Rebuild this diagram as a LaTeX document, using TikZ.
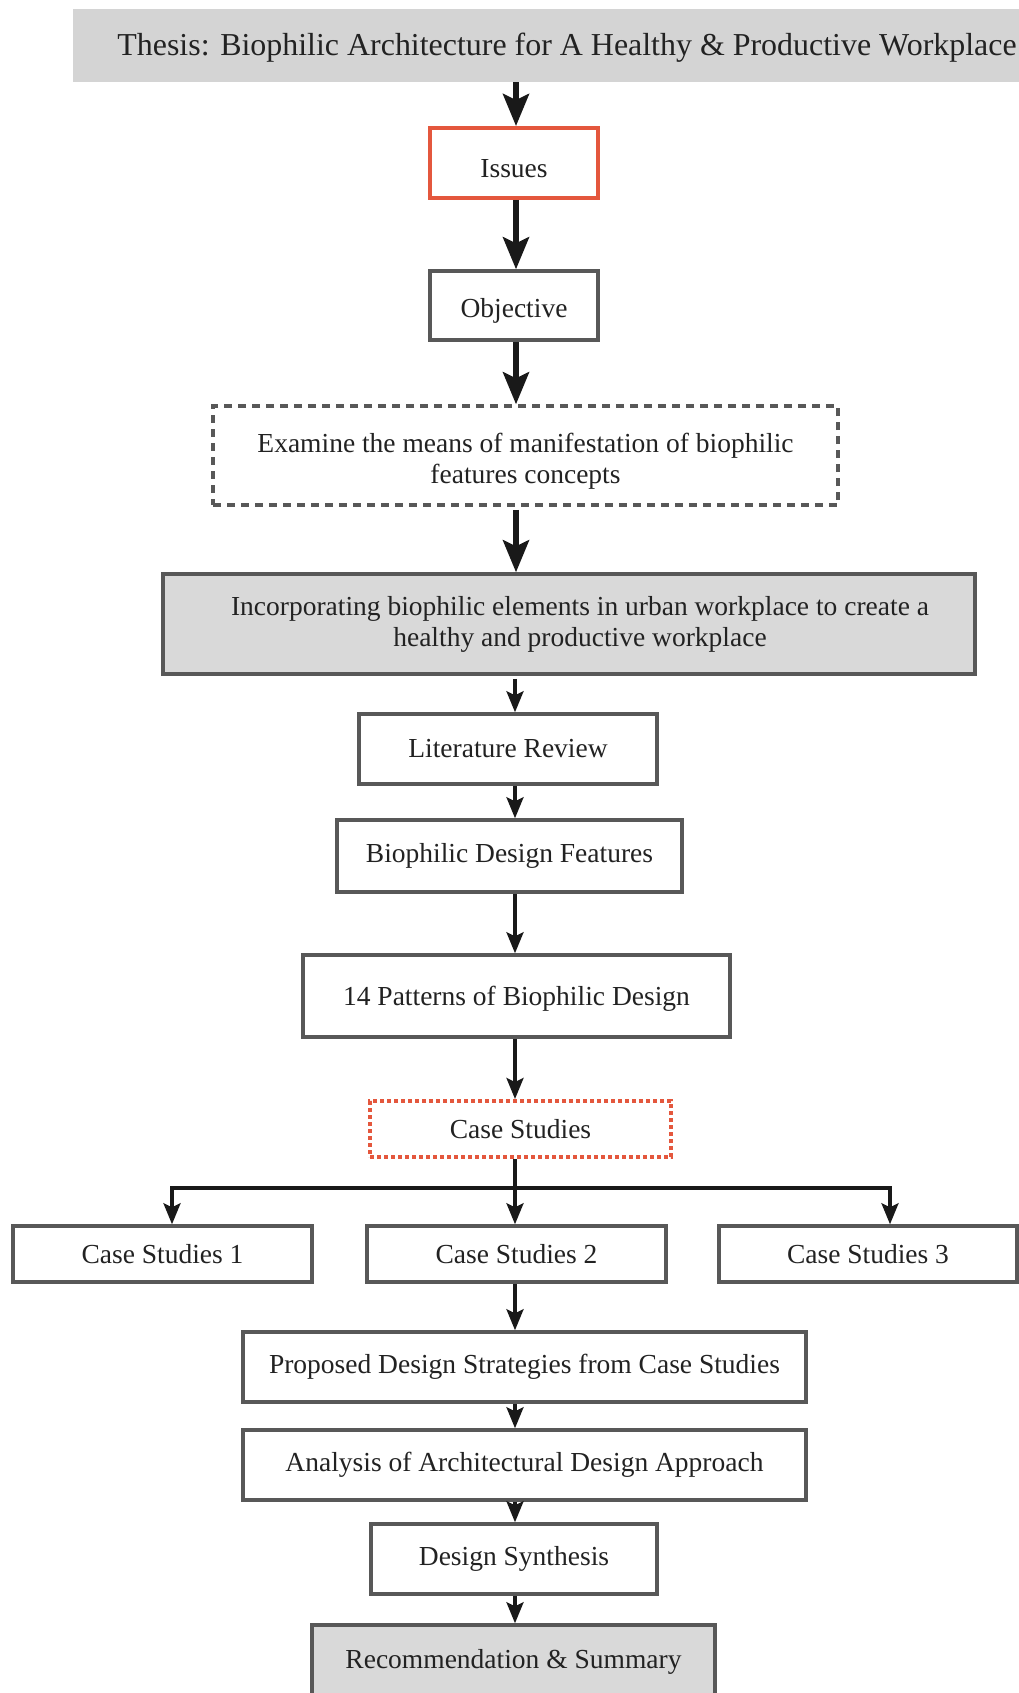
\documentclass[tikz,border=0pt]{standalone}
\usepackage{fontspec}
\setmainfont{Liberation Serif}
\usetikzlibrary{arrows.meta,calc}
\definecolor{bgray}{HTML}{585858}
\definecolor{fillg}{HTML}{D9D9D9}
\definecolor{titleg}{HTML}{D4D4D4}
\definecolor{rd}{HTML}{E4573D}
\definecolor{txt}{HTML}{222222}
\newcommand\mydown{\rule{0pt}{30pt}}
\begin{document}
\begin{tikzpicture}[x=1pt,y=-1pt,
  box/.style={draw=bgray, line width=3.5pt, inner sep=0pt, align=center,
              font=\fontsize{27.5}{31}\selectfont, text=txt},
  dashbox/.style={box, dash pattern=on 8pt off 6pt},
  dotbox/.style={box, draw=rd, line width=4pt, dash pattern=on 4pt off 3pt},
  redbox/.style={box, draw=rd, line width=4pt},
  graybox/.style={box, fill=fillg},
  bigarr/.style={line width=5.5pt, draw=black!90, -{Stealth[length=32pt,width=26pt,inset=6pt]}},
  smallarr/.style={line width=3.3pt, draw=black!90, -{Stealth[length=21pt,width=17pt,inset=4pt]}}
]
\clip (0,0) rectangle (1019,1693);
\fill[white] (0,0) rectangle (1019,1693);

\node[fill=titleg, minimum width=950pt, minimum height=73pt, inner sep=0pt, text=txt] (title) at (548,45.5)
  {\hspace*{38pt}\raisebox{-2pt}[\height][\depth]{\resizebox{899pt}{!}{Thesis: Biophilic Architecture for A Healthy \& Productive Workplace}}};

\node[redbox, minimum width=168pt, minimum height=70pt] (issues) at (514,163) {\mydown Issues};
\node[box, minimum width=168pt, minimum height=69pt] (objective) at (514,305.5) {\mydown Objective};
\node[dashbox, minimum width=625pt, minimum height=99pt] (examine) at (525.5,455.5)
  {\mydown Examine the means of manifestation of biophilic\\features concepts};
\node[graybox, minimum width=812pt, minimum height=100pt] (incorp) at (569,624)
  {\hspace*{22pt}Incorporating biophilic elements in urban workplace to create a\\\hspace*{22pt}healthy and productive workplace};
\node[box, minimum width=298pt, minimum height=70pt] (lit) at (508,749) {Literature Review};
\node[box, minimum width=345pt, minimum height=72pt] (bdf) at (509.5,856) {Biophilic Design Features};
\node[box, minimum width=427pt, minimum height=82pt] (pat) at (516.5,996) {\rule{0pt}{24pt}14 Patterns of Biophilic Design};
\node[dotbox, minimum width=301pt, minimum height=56pt] (cs) at (520.5,1129) {Case Studies};
\node[box, minimum width=299pt, minimum height=56pt] (cs1) at (162.5,1254) {Case Studies 1};
\node[box, minimum width=299pt, minimum height=56pt] (cs2) at (516.5,1254) {Case Studies 2};
\node[box, minimum width=298pt, minimum height=56pt] (cs3) at (868,1254) {Case Studies 3};
\node[box, minimum width=563pt, minimum height=70pt] (prop) at (524.5,1367) {Proposed Design Strategies from Case Studies};
\node[box, minimum width=563pt, minimum height=70pt] (ana) at (524.5,1465) {Analysis of Architectural Design Approach};
\node[box, minimum width=286pt, minimum height=70pt] (syn) at (514,1559) {Design Synthesis};
\node[graybox, minimum width=403pt, minimum height=74pt] (rec) at (513.5,1662) {Recommendation \& Summary};

\coordinate (tc) at (516,0);
\coordinate (lc) at (515,0);
\coordinate (j) at (515,1188);
\coordinate (bl) at (172,1188);
\coordinate (br) at (890,1188);

\draw[bigarr] (title.south -| tc) -- (issues.north -| tc);
\draw[bigarr] (issues.south -| tc) -- (objective.north -| tc);
\draw[bigarr] (objective.south -| tc) -- (examine.north -| tc);
\draw[bigarr] ([yshift=-3pt]examine.south -| tc) -- (incorp.north -| tc);

\draw[smallarr] ([yshift=-3pt]incorp.south -| lc) -- (lit.north -| lc);
\draw[smallarr] (lit.south -| lc) -- (bdf.north -| lc);
\draw[smallarr] (bdf.south -| lc) -- (pat.north -| lc);
\draw[smallarr] (pat.south -| lc) -- (cs.north -| lc);
\draw[smallarr] (cs.south -| lc) -- (cs2.north -| lc);
\draw[smallarr] (j) -| (cs1.north -| bl);
\draw[smallarr] (j) -| (cs3.north -| br);
\draw[smallarr] (cs2.south -| lc) -- (prop.north -| lc);
\draw[smallarr] (prop.south -| lc) -- (ana.north -| lc);
\draw[smallarr] (ana.south -| lc) -- (syn.north -| lc);
\draw[smallarr] (syn.south -| lc) -- (rec.north -| lc);
\end{tikzpicture}
\end{document}
